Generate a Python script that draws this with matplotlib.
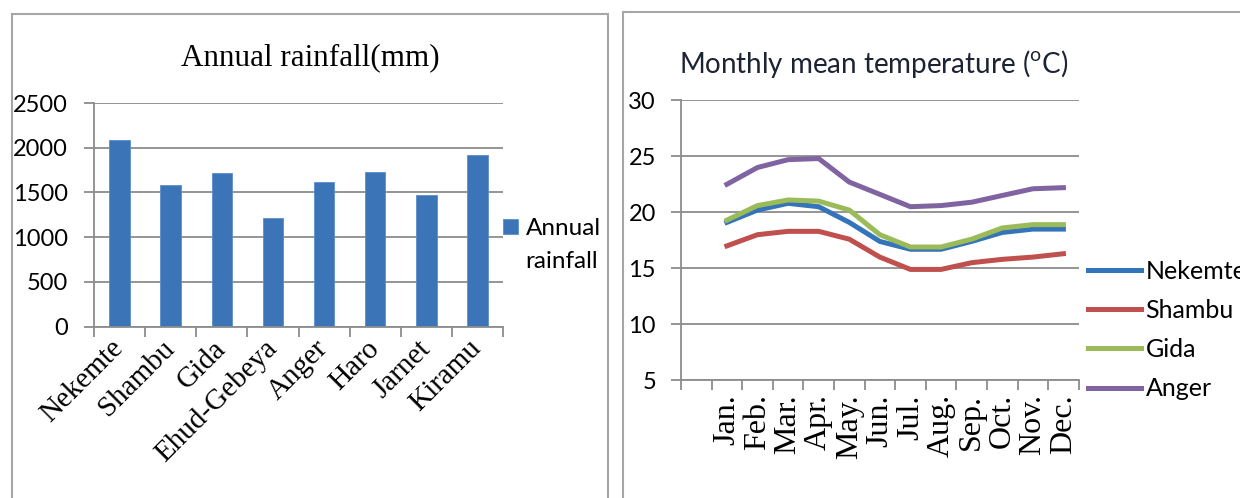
import matplotlib
matplotlib.use("Agg")
import matplotlib.pyplot as plt
from matplotlib.patches import Rectangle

# annual rainfall per station (mm)
stations = ["Nekemte", "Shambu", "Gida", "Ehud-Gebeya", "Anger", "Haro", "Jarnet", "Kiramu"]
rainfall = [2085, 1581, 1715, 1214, 1611, 1723, 1469, 1913]

# monthly mean temperature (deg C)
months = ["Jan.", "Feb.", "Mar.", "Apr.", "May.", "Jun.", "Jul.", "Aug.", "Sep.", "Oct.", "Nov.", "Dec."]
nekemte = [19.1, 20.2, 20.8, 20.5, 19.1, 17.4, 16.7, 16.7, 17.4, 18.2, 18.5, 18.5]
shambu = [17.0, 18.0, 18.3, 18.3, 17.6, 16.0, 14.9, 14.9, 15.5, 15.8, 16.0, 16.3]
gida = [19.3, 20.6, 21.1, 21.0, 20.2, 18.0, 16.9, 16.9, 17.6, 18.6, 18.9, 18.9]
anger = [22.5, 24.0, 24.7, 24.8, 22.7, 21.6, 20.5, 20.6, 20.9, 21.5, 22.1, 22.2]

sans = "Lato"
serif = "Liberation Serif"
grey = "#8c8c8c"

plt.rcParams["mathtext.fontset"] = "custom"
plt.rcParams["mathtext.rm"] = sans

W, H = 1240, 498
fig = plt.figure(figsize=(W / 100, H / 100), dpi=100)

def fx(px):
    return px / W

def fy(py):
    return 1 - py / H

# panel borders
fig.add_artist(Rectangle((fx(12), -0.1), fx(608 - 12), fy(14) + 0.1, transform=fig.transFigure,
                         fill=False, edgecolor="#a6a6a6", lw=1.5))
fig.add_artist(Rectangle((fx(623), -0.1), 1, fy(12) + 0.1, transform=fig.transFigure,
                         fill=False, edgecolor="#a6a6a6", lw=1.5))

def style_axes(ax, ypad):
    for s in ["top", "right"]:
        ax.spines[s].set_visible(False)
    for s in ["left", "bottom"]:
        ax.spines[s].set_color(grey)
        ax.spines[s].set_linewidth(1.3)
    ax.yaxis.grid(True, color=grey, lw=1.3)
    ax.set_axisbelow(True)
    ax.tick_params(axis="both", which="major", color=grey, width=1.3, length=7)
    ax.tick_params(axis="x", which="major", labelbottom=False)
    ax.tick_params(axis="x", which="minor", length=0)
    ax.tick_params(axis="y", labelsize=17, pad=ypad)
    for t in ax.get_yticklabels():
        t.set_fontfamily(sans)

# ---- bar chart ----
ax1 = fig.add_axes([fx(94), fy(326.5), fx(503 - 94), (326.5 - 103) / H])
x1 = list(range(len(stations)))
ax1.bar(x1, rainfall, width=0.4, color="#3B74B7", edgecolor="#5b8fcc", lw=0.6, label="Annual")
ax1.set_xlim(-0.5, len(stations) - 0.5)
ax1.set_ylim(0, 2500)
ax1.set_yticks(range(0, 2501, 500))
ax1.set_xticks([i - 0.5 for i in range(len(stations) + 1)])
ax1.set_xticks(x1, minor=True)
ax1.set_xticklabels(stations, minor=True, rotation=45, ha="right", va="center",
                    rotation_mode="anchor", fontfamily=serif, fontsize=21)
style_axes(ax1, 12)
ax1.tick_params(axis="x", which="minor", pad=13)
ax1.set_title("Annual rainfall(mm)", fontfamily=serif, fontsize=22.4, pad=27, x=0.528)

ax1.legend(loc="upper left", bbox_to_anchor=(fx(503), fy(218)), bbox_transform=fig.transFigure,
           frameon=False, borderpad=0, borderaxespad=0, handlelength=0.6, handleheight=0.6,
           handletextpad=0.35, prop={"family": sans, "size": 17.5})
fig.text(fx(525), fy(262), "rainfall", fontfamily=sans, fontsize=17.5, va="center", ha="left")

# ---- line chart ----
ax2 = fig.add_axes([fx(681), fy(380.3), fx(1078.7 - 681), (380.3 - 100.3) / H])
x2 = list(range(1, len(months) + 1))
ax2.plot(x2, nekemte, color="#3474BA", lw=3.6, label="Nekemte")
ax2.plot(x2, shambu, color="#C0504D", lw=3.6, label="Shambu")
ax2.plot(x2, gida, color="#9BBB59", lw=3.6, label="Gida")
ax2.plot(x2, anger, color="#8064A2", lw=3.6, label="Anger")
ax2.set_xlim(-0.5, len(months) + 0.5)
ax2.set_ylim(5, 30)
ax2.set_yticks(range(5, 31, 5))
ax2.set_xticks([i - 0.5 for i in range(len(months) + 2)])
ax2.set_xticks(x2, minor=True)
ax2.set_xticklabels(months, minor=True, rotation=90, ha="center", va="top",
                    fontfamily=serif, fontsize=23)
style_axes(ax2, 11)
ax2.tick_params(axis="x", which="minor", pad=10)
ax2.set_title("Monthly mean temperature ($^\\mathrm{o}$C)", fontfamily=sans, fontsize=20,
              color="#1c2333", pad=20, x=0.485)

handles, labels = ax2.get_legend_handles_labels()
fig.legend(handles, labels, loc="center left", bbox_to_anchor=(fx(1088), fy(330)), frameon=False,
           borderpad=0, borderaxespad=0, handlelength=2.1, handletextpad=0.2,
           labelspacing=0.65, prop={"family": sans, "size": 18})

fig.savefig("out.png", dpi=100)
